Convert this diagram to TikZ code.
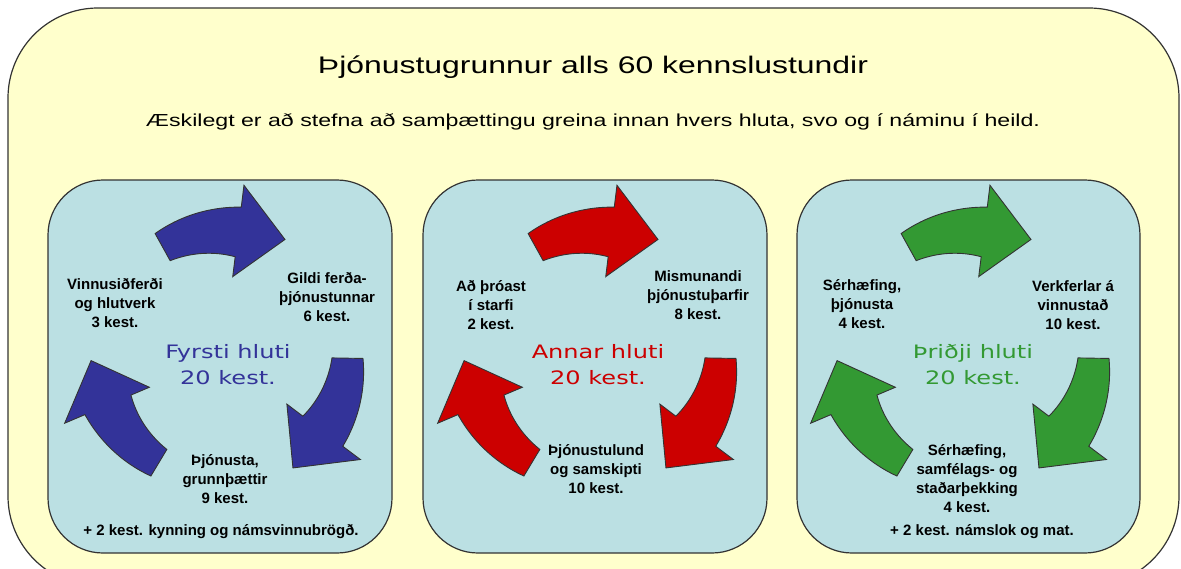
\documentclass[tikz,border=0pt]{standalone}
\usepackage{fontspec}
\setmainfont{Liberation Sans}
\newfontfamily\titlefont[FakeStretch=1.33]{Liberation Sans}
\newfontfamily\partfont[FakeStretch=1.3]{DejaVu Sans}
\definecolor{paleyellow}{HTML}{FFFFCC}
\definecolor{paleblue}{HTML}{BBE0E3}
\definecolor{arrowblue}{HTML}{333399}
\definecolor{arrowred}{HTML}{CC0000}
\definecolor{arrowgreen}{HTML}{339933}
\definecolor{edgegray}{HTML}{333333}
\tikzset{
  partbox/.style={draw=edgegray,line width=1.2pt,fill=paleblue,rounded corners=55pt},
  arrowshape/.style={draw=edgegray,line width=0.9pt},
  topic/.style={font=\bfseries\fontsize{15}{19}\selectfont,align=center,inner sep=0pt},
  parttitle/.style={font=\partfont\fontsize{18.5}{26}\selectfont,align=center,inner sep=0pt}
}
% curved arrow: centre x, centre y, tip angle, colour
\newcommand\cycarrow[4]{%
  \begin{scope}[shift={(#1,#2)},yscale=-1]
    \filldraw[arrowshape,fill=#4]
      plot[domain=57:21,samples=24] ({#3+\x}:{140+(57-\x)/36*10})
      -- ({#3+21}:172) -- ({#3}:132) -- ({#3+21}:80)
      -- plot[domain=21:57,samples=24] ({#3+\x}:{100+(\x-21)/36*9})
      -- cycle;
  \end{scope}}
\begin{document}
\begin{tikzpicture}[x=1pt,y=-1pt]
  \clip (0,0) rectangle (1181,568);
  \draw[draw=edgegray,line width=1.2pt,fill=paleyellow,rounded corners=90pt] (8,8) rectangle (1179,586);
  \node[anchor=base,inner sep=0pt,font=\titlefont\fontsize{24}{28}\selectfont] (title) at (593,73) {Þjónustugrunnur alls 60 kennslustundir};
  \node[anchor=base,inner sep=0pt,font=\titlefont\fontsize{17.4}{21}\selectfont] (subtitle) at (593,126) {Æskilegt er að stefna að samþættingu greina innan hvers hluta, svo og í náminu í heild.};

  % fyrsti hluti
  \draw[partbox] (48,180) rectangle (392,553);
  \cycarrow{223}{356}{62}{arrowblue}
  \cycarrow{223}{356}{-58}{arrowblue}
  \cycarrow{223}{356}{182}{arrowblue}
  \node[topic] (vinnu) at (115,303) {Vinnusiðferði\\og hlutverk\\3 kest.};
  \node[topic] (gildi) at (327,297) {Gildi ferða-\\þjónustunnar\\6 kest.};
  \node[parttitle,text=arrowblue] (fyrsti) at (228,365) {Fyrsti hluti\\20 kest.};
  \node[topic] (grunn) at (225,479) {Þjónusta,\\grunnþættir\\9 kest.};
  \node[topic] (kynning) at (221,532) {+ 2 kest. kynning og námsvinnubrögð.};

  % annar hluti
  \draw[partbox] (423,180) rectangle (767,553);
  \cycarrow{596}{356}{62}{arrowred}
  \cycarrow{596}{356}{-58}{arrowred}
  \cycarrow{596}{356}{182}{arrowred}
  \node[topic] (throast) at (491,305) {Að þróast\\í starfi\\2 kest.};
  \node[topic] (thorf) at (698,295) {Mismunandi\\þjónustuþarfir\\8 kest.};
  \node[parttitle,text=arrowred] (annar) at (598,365) {Annar hluti\\20 kest.};
  \node[topic] (lund) at (596,469) {Þjónustulund\\og samskipti\\10 kest.};

  % þriðji hluti
  \draw[partbox] (797,180) rectangle (1140,553);
  \cycarrow{969}{356}{62}{arrowgreen}
  \cycarrow{969}{356}{-58}{arrowgreen}
  \cycarrow{969}{356}{182}{arrowgreen}
  \node[topic] (serh) at (862,304) {Sérhæfing,\\þjónusta\\4 kest.};
  \node[topic] (verk) at (1073,305) {Verkferlar á\\vinnustað\\10 kest.};
  \node[parttitle,text=arrowgreen] (thridji) at (973,365) {Þriðji hluti\\20 kest.};
  \node[topic] (stadar) at (967,479) {Sérhæfing,\\samfélags- og\\staðarþekking\\4 kest.};
  \node[topic] (namslok) at (982,532) {+ 2 kest. námslok og mat.};
\end{tikzpicture}
\end{document}
